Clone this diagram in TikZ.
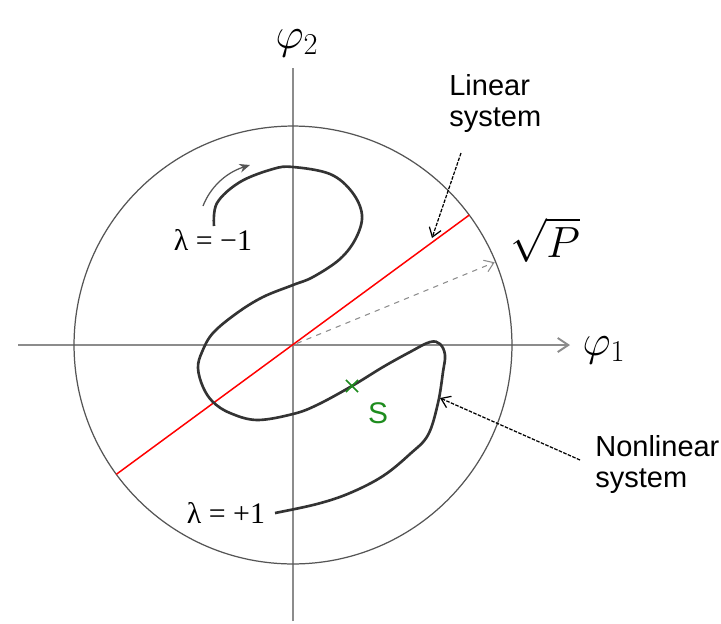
\documentclass[tikz,border=0pt]{standalone}
\usepackage{amsmath}
\usepackage{fontspec}
\newfontfamily\labelsans{Liberation Sans}
\newfontfamily\labelserif{Liberation Serif}
\usepackage{tikz}
\usetikzlibrary{arrows.meta, positioning, shapes.misc}
\definecolor{axisgray}{HTML}{8C8C8C}
\definecolor{rimgray}{HTML}{555555}
\definecolor{curvegray}{HTML}{333333}
\definecolor{markgreen}{HTML}{1E8C1E}

\begin{document}
\begin{tikzpicture}[x=0.02cm, y=-0.02cm]
    \tikzset{
  axisline/.style={axisgray, line width=1.1pt},
  rimline/.style={rimgray, line width=0.7pt},
  orbitline/.style={curvegray, line width=1.5pt},
  callout/.style={-{Straight Barb[length=5pt, width=7pt]}, black, dash pattern=on 2pt off 0.8pt, line width=0.7pt},
  sidelab/.style={font=\labelsans\fontsize{16.5}{17.5}\selectfont, align=left, inner sep=0, anchor=north west},
  lamlab/.style={font=\labelserif\fontsize{17}{19}\selectfont, inner sep=1pt},
  axislab/.style={font=\fontsize{23}{26}\selectfont, inner sep=0},
}
% ── Frame ──────────────────────────────────────────────────
\fill[white] (0,0) rectangle (721,623);
\useasboundingbox (0,0) rectangle (721,623);
\coordinate (O) at (293,345);

% ── Axes ───────────────────────────────────────────────────
\coordinate (xleft) at (18,345);
\coordinate (xright) at (570,345);
\coordinate (ybottom) at (293,621);
\coordinate (ytop) at (293,68);
\draw[axisline, -{Straight Barb[length=6pt, width=8pt]}] (xleft) -- (xright);
\draw[axisline] (ybottom) -- (ytop);
\node[axislab] (phione) at (604,350) {$\varphi_1$};
\node[axislab] (phitwo) at (297,43) {$\varphi_2$};

% ── Power circle ───────────────────────────────────────────
\draw[rimline] (O) circle [radius=4.38cm];

% ── Linear system: red diameter ────────────────────────────
\coordinate (redlo) at ([shift={(O)}]216.2:4.38cm);
\coordinate (redhi) at ([shift={(O)}]36.4:4.38cm);
\draw[red, line width=0.85pt] (redlo) -- (redhi);

% ── Radius sqrt(P) ─────────────────────────────────────────
\coordinate (radend) at ([shift={(O)}]22.3:4.36cm);
\draw[axisgray, dashed, line width=0.6pt, -{Straight Barb[length=5pt, width=7pt]}]
  ([shift={(O)}]22.3:0.08cm) -- (radend);
\node[font=\fontsize{27}{30}\selectfont, inner sep=0] (sqrtp) at (545,240) {$\sqrt{P}$};

% ── Nonlinear system: S-shaped orbit ───────────────────────
\draw[orbitline] plot[smooth, tension=0.6] coordinates {
  (214,226) (217,203) (240,182) (273,169) (293,167) (330,174) (352,192)
  (362,215) (356,238) (340,259) (313,277) (293,285) (263,297) (237,313)
  (213,333) (202,352) (198,368) (203,387) (213,402) (230,413) (257,420)
  (293,414) (317,405) (352,386) (383,367) (410,352) (430,342) (440,344)
  (445,355) (443,372) (438,403) (428,435) (410,454) (383,476) (350,493)
  (317,504) (275,513)};

% direction of travel
\coordinate (turnfrom) at (203,206);
\coordinate (turnto) at (250,165);
\draw[rimgray, line width=0.7pt, -{Stealth[length=6pt, width=5pt]}]
  (turnfrom) .. controls (210,188) and (225,173) .. (turnto);

\node[lamlab] (lamneg) at (213,240) {λ = −1};
\node[lamlab] (lampos) at (226,513) {λ = +1};

% saddle point S
\node[draw=markgreen, cross out, line width=0.9pt, minimum size=6pt, inner sep=0] (smark) at (352,386) {};
\node[markgreen, font=\labelsans\fontsize{17}{19}\selectfont, inner sep=0] (slab) at (378,413) {S};

% ── Callouts ───────────────────────────────────────────────
\node[sidelab] (linlab) at (449,74) {Linear\\system};
\coordinate (lintail) at (461,153);
\coordinate (linhit) at (432,238);
\draw[callout] (lintail) -- (linhit);

\node[sidelab] (nonlab) at (595,435) {Nonlinear\\system};
\coordinate (nontail) at (580,460);
\coordinate (nonhit) at (440,398);
\draw[callout] (nontail) -- (nonhit);

  \end{tikzpicture}
\end{document}
